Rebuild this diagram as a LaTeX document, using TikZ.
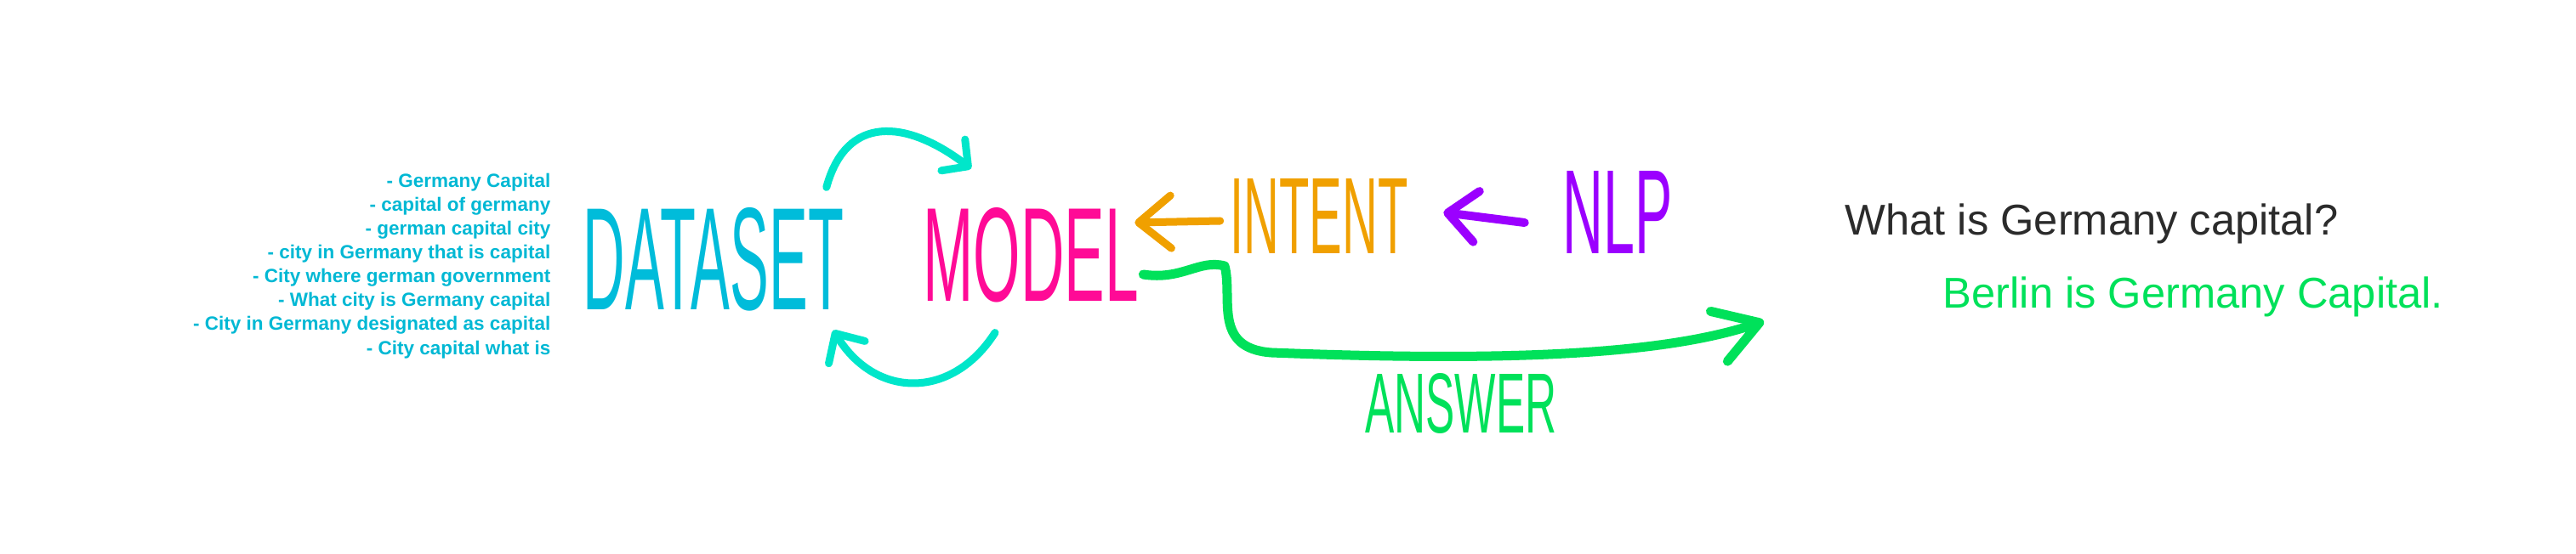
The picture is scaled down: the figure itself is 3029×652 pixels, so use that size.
\documentclass[tikz,border=0pt]{standalone}
\usepackage{fontspec}
\setmainfont{Liberation Sans}
\usepackage{graphicx}
\usetikzlibrary{arrows.meta}

\definecolor{listcyan}{HTML}{00B8D4}
\definecolor{datacyan}{HTML}{00BCDA}
\definecolor{loopcyan}{HTML}{00E6CA}
\definecolor{modelpink}{HTML}{FF0A96}
\definecolor{intentorange}{HTML}{F0A000}
\definecolor{nlppurple}{HTML}{9B00FF}
\definecolor{answergreen}{HTML}{00E15A}
\definecolor{questiongray}{HTML}{2B2B2B}

% hand lettered words: width, height, text
\newcommand{\scrawl}[3]{\resizebox{#1}{#2}{#3}}

\begin{document}
\begin{tikzpicture}[x=0.01cm, y=-0.01cm,
    word/.style={inner sep=0pt},
    listline/.style={inner sep=0pt, anchor=base east, text=listcyan,
      font=\fontsize{6.4}{8}\selectfont\bfseries},
    sentence/.style={inner sep=0pt, anchor=base west,
      font=\fontsize{14.4}{17}\selectfont},
    pen/.style={line width=0.09cm, line cap=round, line join=round}]
      \useasboundingbox (0,0) rectangle (3029,652);
      % sample phrases
      \foreach \phrase [count=\i] in {- Germany Capital, - capital of germany,
          - german capital city, - city in Germany that is capital,
          - City where german government, - What city is Germany capital,
          - City in Germany designated as capital, - City capital what is}
        \node[listline] (phrase\i) at (648,{192.65+28.05*\i}) {\phrase};
      % hand lettered words
      \node[word, text=datacyan] (dataset) at (839,305) {\scrawl{3.06cm}{1.2cm}{DATASET}};
      \node[word, text=modelpink] (model) at (1212,300) {\scrawl{2.53cm}{1.1cm}{MODEL}};
      \node[word, text=intentorange] (intent) at (1551,254) {\scrawl{2.09cm}{0.88cm}{INTENT}};
      \node[word, text=nlppurple] (nlp) at (1902,250) {\scrawl{1.29cm}{0.97cm}{NLP}};
      \node[word, text=answergreen] (answer) at (1718,475) {\scrawl{2.25cm}{0.7cm}{ANSWER}};
      % question and reply
      \node[sentence, text=questiongray] (question) at (2169,277) {What is Germany capital?};
      \node[sentence, text=answergreen] (reply) at (2284,363) {Berlin is Germany Capital.};
      \coordinate (tip) at (2074,378);
      % training loop
      \draw[pen, draw=loopcyan, -{Straight Barb[round, length=0.22cm, width=0.46cm]}]
        ([xshift=-0.21cm, yshift=0.23cm]dataset.north east) .. controls (995,135) and (1065,140)
        .. ([xshift=-0.7cm, yshift=0.45cm]model.north);
      \draw[pen, draw=loopcyan, -{Straight Barb[round, length=0.26cm, width=0.5cm]}]
        ([xshift=-0.42cm, yshift=-0.35cm]model.south) .. controls (1120,470) and (1030,470)
        .. ([xshift=-0.13cm, yshift=-0.22cm]dataset.south east);
      % inputs
      \draw[pen, draw=intentorange, -{Straight Barb[round, length=0.38cm, width=0.62cm]}]
        ([xshift=-0.11cm, yshift=-0.06cm]intent.west) -- ([xshift=-0.05cm, yshift=0.38cm]model.east);
      \draw[pen, line width=0.1cm, draw=nlppurple, -{Straight Barb[round, length=0.34cm, width=0.6cm]}]
        ([xshift=-0.44cm, yshift=-0.12cm]nlp.west) -- ([xshift=0.41cm, yshift=0.04cm]intent.east);
      % answer
      \draw[pen, line width=0.11cm, draw=answergreen, -{Straight Barb[round, length=0.5cm, width=0.62cm]}]
        ([xshift=0.05cm, yshift=-0.23cm]model.east) .. controls (1390,330) and (1410,305) .. (1440,313)
        .. controls (1450,350) and (1425,410) .. (1495,415)
        .. controls (1750,425) and (1950,420) .. (tip);
    \end{tikzpicture}
\end{document}
